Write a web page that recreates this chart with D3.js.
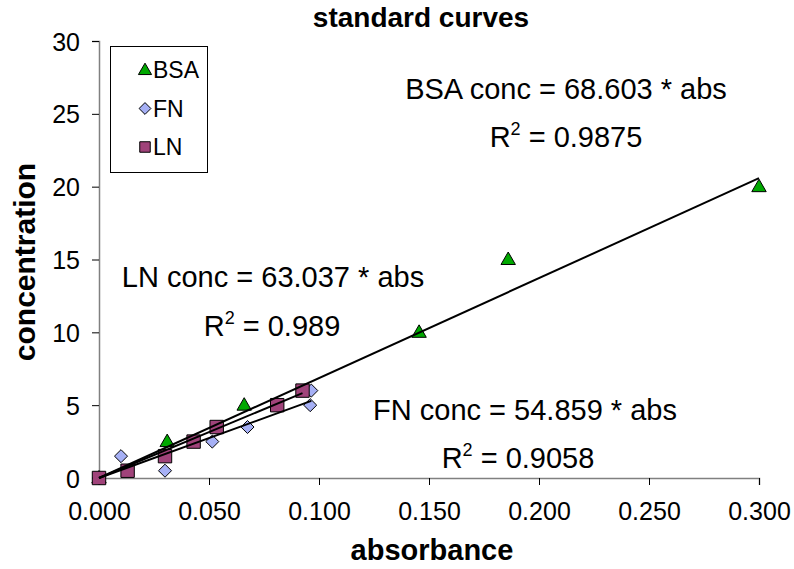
<!DOCTYPE html>
<html>
<head>
<meta charset="utf-8">
<script src="https://cdn.jsdelivr.net/npm/d3@7"></script>
<style>
  body { margin: 0; background: #fff; }
  svg { display: block; font-family: "Liberation Sans", Arial, sans-serif; }
</style>
</head>
<body>
<svg id="chart"></svg>
<script>
// data
var seriesNames = ["BSA", "FN", "LN"];
var bsaAbs = [0, 0.031, 0.066, 0.1455, 0.186, 0.300];
var bsaConc = [0, 2.5, 5, 10, 15, 20];
var fnAbs = [0, 0.010, 0.030, 0.0515, 0.0675, 0.096, 0.0965];
var fnConc = [0, 1.5, 0.5, 2.5, 3.5, 5, 6];
var lnAbs = [0, 0.013, 0.030, 0.043, 0.0535, 0.081, 0.0925];
var lnConc = [0, 0.5, 1.5, 2.5, 3.5, 5, 6];
var slopes = [68.603, 54.859, 63.037];
var r2 = ["0.9875", "0.9058", "0.989"];
var xTicks = [0, 0.05, 0.1, 0.15, 0.2, 0.25, 0.3];
var yTicks = [0, 5, 10, 15, 20, 25, 30];

var width = 794, height = 569;
var margin = {top: 41, right: 35, bottom: 91, left: 99};

var svg = d3.select("#chart")
    .attr("width", width)
    .attr("height", height);

var x = d3.scaleLinear().domain([0, 0.3]).range([margin.left, width - margin.right]);
var y = d3.scaleLinear().domain([0, 30]).range([height - margin.bottom, margin.top]);

var colors = {BSA: "#00a800", FN: "#a6b0f5", LN: "#a0437a"};

// axes
var xAxis = svg.append("g")
    .attr("transform", "translate(0," + y(0) + ")")
    .call(d3.axisBottom(x).tickValues(xTicks).tickFormat(d3.format(".3f")).tickSize(7).tickPadding(17));
var yAxis = svg.append("g")
    .attr("transform", "translate(" + x(0) + ",0)")
    .call(d3.axisLeft(y).tickValues(yTicks).tickSize(7).tickPadding(12));

[xAxis, yAxis].forEach(function(ax) {
    ax.select(".domain").attr("stroke", "#808080").attr("stroke-width", 1.5);
    ax.selectAll(".tick line").attr("stroke", "#000");
    ax.selectAll(".tick text").attr("font-size", "25px").attr("fill", "#000")
        .attr("font-family", "Liberation Sans, Arial, sans-serif");
});
yAxis.selectAll(".tick text").attr("dy", "0.36em");

// titles
svg.append("text")
    .attr("x", 421).attr("y", 27)
    .attr("text-anchor", "middle")
    .attr("font-size", "28px").attr("font-weight", "bold")
    .text("standard curves");

svg.append("text")
    .attr("x", 432).attr("y", 560)
    .attr("text-anchor", "middle")
    .attr("font-size", "29px").attr("font-weight", "bold")
    .text("absorbance");

svg.append("text")
    .attr("transform", "translate(35,262) rotate(-90)")
    .attr("text-anchor", "middle")
    .attr("font-size", "30px").attr("font-weight", "bold")
    .text("concentration");

// marker shapes
var triangleType = {
    draw: function(ctx, size) {
        var w = Math.sqrt(size * 2 / 0.866), h = w * 0.866;
        ctx.moveTo(0, -h * 0.6);
        ctx.lineTo(w / 2, h * 0.4);
        ctx.lineTo(-w / 2, h * 0.4);
        ctx.closePath();
    }
};
var diamondType = {
    draw: function(ctx, size) {
        var r = Math.sqrt(size / 2);
        ctx.moveTo(0, -r);
        ctx.lineTo(r, 0);
        ctx.lineTo(0, r);
        ctx.lineTo(-r, 0);
        ctx.closePath();
    }
};
var shapes = {
    BSA: d3.symbol().type(triangleType).size(90),
    FN: d3.symbol().type(diamondType).size(85),
    LN: d3.symbol().type(d3.symbolSquare).size(180)
};

function drawSeries(name, xs, ys) {
    svg.append("g").selectAll("path")
        .data(xs.map(function(v, i) { return [v, ys[i]]; }))
        .enter()
        .append("path")
        .attr("d", shapes[name]())
        .attr("fill", colors[name])
        .attr("stroke", "#000")
        .attr("stroke-width", 1)
        .attr("transform", function(d) {
            return "translate(" + x(d[0]) + "," + y(d[1]) + ")";
        });
}
drawSeries("BSA", bsaAbs, bsaConc);
drawSeries("FN", fnAbs, fnConc);
drawSeries("LN", lnAbs, lnConc);

// trendlines through origin
var maxAbs = [d3.max(bsaAbs), d3.max(fnAbs), d3.max(lnAbs)];
seriesNames.forEach(function(name, i) {
    svg.append("line")
        .attr("x1", x(0)).attr("y1", y(0))
        .attr("x2", x(maxAbs[i])).attr("y2", y(slopes[i] * maxAbs[i]))
        .attr("stroke", "#000").attr("stroke-width", 2);
});

// equation labels
var labelPos = [[566, 99, 566, 147], [525, 420, 518, 468], [273, 287, 272, 336]];
seriesNames.forEach(function(name, i) {
    var p = labelPos[i];
    svg.append("text")
        .attr("x", p[0]).attr("y", p[1])
        .attr("text-anchor", "middle")
        .attr("font-size", "29px")
        .text(name + " conc = " + slopes[i].toFixed(3) + " * abs");
    var t = svg.append("text")
        .attr("x", p[2]).attr("y", p[3])
        .attr("text-anchor", "middle")
        .attr("font-size", "29px");
    t.append("tspan").text("R");
    t.append("tspan").attr("dy", -12).attr("font-size", "18px").text("2");
    t.append("tspan").attr("dy", 12).text(" = " + r2[i]);
});

// legend
var legend = svg.append("g");
legend.append("rect")
    .attr("x", 110.5).attr("y", 46.5).attr("width", 97).attr("height", 126)
    .attr("fill", "#fff").attr("stroke", "#000").attr("stroke-width", 1);
var legendShapes = {
    BSA: d3.symbol().type(triangleType).size(75),
    FN: d3.symbol().type(diamondType).size(70),
    LN: d3.symbol().type(d3.symbolSquare).size(110)
};
seriesNames.forEach(function(name, i) {
    var ly = 70 + i * 38.5;
    legend.append("path")
        .attr("d", legendShapes[name]())
        .attr("transform", "translate(145," + ly + ")")
        .attr("fill", colors[name]).attr("stroke", "#000").attr("stroke-width", 1);
    legend.append("text")
        .attr("x", 153).attr("y", ly + 8)
        .attr("font-size", "23px")
        .text(name);
});
</script>
</body>
</html>
